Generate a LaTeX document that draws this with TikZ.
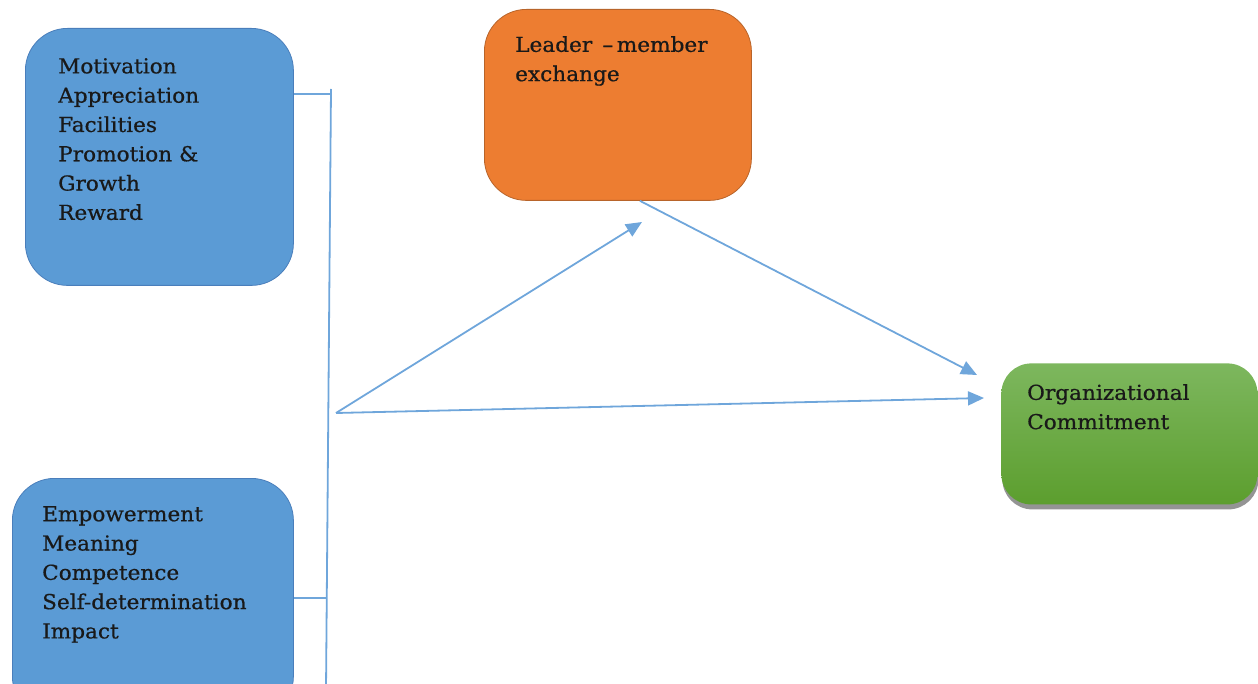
\documentclass[tikz,border=0pt]{standalone}
\usepackage{fontspec}
\setmainfont[FakeStretch=1.05,FakeBold=0.6]{DejaVu Serif}
\usetikzlibrary{arrows.meta,shadows}
\definecolor{boxblue}{HTML}{5B9BD5}
\definecolor{boxblueedge}{HTML}{4A7EBB}
\definecolor{boxorange}{HTML}{ED7D31}
\definecolor{boxorangeedge}{HTML}{B8642A}
\definecolor{greentop}{HTML}{7DB75E}
\definecolor{greenbot}{HTML}{5C9E2E}
\definecolor{linkblue}{HTML}{6FA6DB}
\tikzset{
  boxbase/.style={rectangle, rounded corners=42pt, inner sep=0pt, anchor=north west, line width=0.8pt},
  bluebox/.style={boxbase, fill=boxblue, draw=boxblueedge},
  orangebox/.style={boxbase, fill=boxorange, draw=boxorangeedge},
  greenbox/.style={boxbase, rounded corners=30pt, top color=greentop, bottom color=greenbot, draw=none,
     drop shadow={shadow xshift=1pt, shadow yshift=-5pt, fill=black!60, opacity=0.7}},
  label/.style={anchor=north west, align=left, inner sep=0pt, font=\fontsize{20.6}{29.3}\selectfont, text=black!90},
  link/.style={draw=linkblue, line width=1.8pt},
  arrow/.style={link, -{Triangle[length=16pt,width=14pt]}}
}
\begin{document}
\begin{tikzpicture}[x=1pt,y=-1pt]
\useasboundingbox (0,0) rectangle (1258,684);
% boxes
\node[bluebox, minimum width=268pt, minimum height=257pt] (b1) at (25,28) {};
\node[bluebox, minimum width=281pt, minimum height=240pt] (b2) at (12,478) {};
\node[orangebox, minimum width=267pt, minimum height=191pt] (lmx) at (484,9) {};
\node[greenbox, minimum width=256pt, minimum height=141pt] (oc) at (1001,363) {};
% texts
\node[label] (t1) at (58,58) {Motivation\\Appreciation\\Facilities\\Promotion \&\\Growth\\Reward};
\node[label] (t2) at (42,506) {Empowerment\\Meaning\\Competence\\Self-determination\\Impact};
\node[label] (t3) at (515,36) {Leader \,--\,member\\exchange};
\node[label] (t4) at (1027,384) {Organizational\\Commitment};
% bus
\coordinate (bustop) at (331,89);
\coordinate (busbot) at (326,690);
\coordinate (j1) at (331,94);
\coordinate (j2) at (327,598);
\coordinate (apex) at (336,413);
\coordinate (tipa) at (642,222);
\coordinate (tipb) at (984,398);
\coordinate (tipc) at (977,375);
\draw[link] (bustop) -- (busbot);
\draw[link] (b1.east |- j1) -- (j1);
\draw[link] (b2.east |- j2) -- (j2);
\draw[arrow] (apex) -- (tipa);
\draw[arrow] (apex) -- (tipb);
\draw[arrow] ([xshift=22pt]lmx.south) -- (tipc);
\end{tikzpicture}
\end{document}
